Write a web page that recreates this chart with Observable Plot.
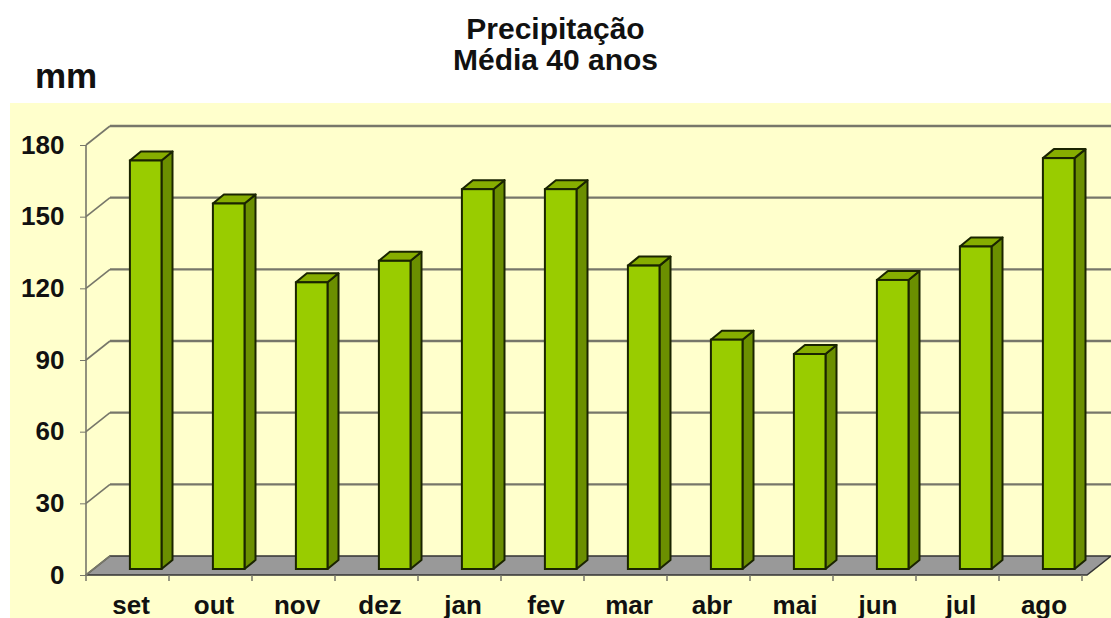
<!DOCTYPE html>
<html>
<head>
<meta charset="utf-8">
<script src="https://cdn.jsdelivr.net/npm/d3@7"></script>
<script src="https://cdn.jsdelivr.net/npm/@observablehq/plot@0.6"></script>
<style>
  html, body { margin: 0; padding: 0; background: #ffffff; }
  body { position: relative; width: 1111px; height: 618px; overflow: hidden; font-family: "Liberation Sans", Arial, sans-serif; }
  .title { position: absolute; left: 0; width: 1111px; top: 12.6px; text-align: center; font-weight: bold; font-size: 30px; line-height: 31px; color: #111; }
  .unit { position: absolute; left: 35px; top: 58px; font-weight: bold; font-size: 35px; line-height: 35px; color: #111; }
  #chart { position: absolute; left: 10px; top: 103px; width: 1101px; height: 515px; background: #ffffcc; }
</style>
</head>
<body>
<div class="title">Precipitação<br>Média 40 anos</div>
<div class="unit">mm</div>
<div id="chart"></div>
<script>
const months = ["set", "out", "nov", "dez", "jan", "fev", "mar", "abr", "mai", "jun", "jul", "ago"];
const values = [171, 153, 120, 129, 159, 159, 127, 96, 90, 121, 135, 172];
const yTicks = [0, 30, 60, 90, 120, 150, 180];

const data = months.map((m, i) => ({month: m, value: values[i]}));

// 3D projection offsets (pixels)
const wallDX = 24, wallDY = -19;       // full depth of floor/back wall
const barShiftX = 7.6, barShiftY = -6; // bar front face position in depth
const barDX = 11, barDY = -9;          // bar depth
const insetL = 33.3, insetR = 18.1;

const gridColor = "#77776a";
const outline = "#1a2400";

// walls, floor, grid
function scaffold(index, scales, values, dims) {
  const g = d3.create("svg:g");
  const y = scales.y;
  const x0 = dims.marginLeft, x1 = dims.width - dims.marginRight;
  const y0 = y(0);
  // floor
  g.append("polygon")
    .attr("points", [[x0, y0], [x1, y0], [x1 + wallDX, y0 + wallDY], [x0 + wallDX, y0 + wallDY]].join(" "))
    .attr("fill", "#999999").attr("stroke", "#333333").attr("stroke-width", 1.5);
  // back-wall gridlines + side diagonals
  for (const t of yTicks) {
    const yy = y(t);
    if (t > 0) {
      g.append("line")
        .attr("x1", x0 + wallDX).attr("x2", dims.width)
        .attr("y1", yy + wallDY).attr("y2", yy + wallDY)
        .attr("stroke", gridColor).attr("stroke-width", 2.4);
    }
    g.append("line")
      .attr("x1", x0).attr("y1", yy).attr("x2", x0 + wallDX).attr("y2", yy + wallDY)
      .attr("stroke", gridColor).attr("stroke-width", 1.6);
  }
  // front vertical axis
  g.append("line")
    .attr("x1", x0).attr("x2", x0).attr("y1", y(0)).attr("y2", y(180))
    .attr("stroke", gridColor).attr("stroke-width", 1.6);
  // category boundary ticks
  const bw = scales.x(months[1]) - scales.x(months[0]);
  for (let i = 0; i <= months.length; i++) {
    const xx = x0 + i * bw;
    g.append("line")
      .attr("x1", xx).attr("x2", xx).attr("y1", y0).attr("y2", y0 + 6)
      .attr("stroke", gridColor).attr("stroke-width", 1.5);
  }
  return g.node();
}

// bar side & top faces
function barFaces(index, scales, values, dims) {
  const g = d3.create("svg:g");
  const bw = scales.x(months[1]) - scales.x(months[0]);
  for (const d of data) {
    const xl = scales.x(d.month) + insetL + barShiftX;
    const xr = scales.x(d.month) + bw - insetR + barShiftX;
    const yt = scales.y(d.value) + barShiftY;
    const yb = scales.y(0) + barShiftY;
    g.append("polygon")
      .attr("points", [[xr, yb], [xr, yt], [xr + barDX, yt + barDY], [xr + barDX, yb + barDY]].join(" "))
      .attr("fill", "#6b8f00").attr("stroke", outline).attr("stroke-width", 2).attr("stroke-linejoin", "round");
    g.append("polygon")
      .attr("points", [[xl, yt], [xr, yt], [xr + barDX, yt + barDY], [xl + barDX, yt + barDY]].join(" "))
      .attr("fill", "#86ad00").attr("stroke", outline).attr("stroke-width", 2).attr("stroke-linejoin", "round");
  }
  return g.node();
}

const chart = Plot.plot({
  width: 1101,
  height: 515,
  marginLeft: 76,
  marginRight: 24,
  marginTop: 42,
  marginBottom: 43,
  style: {fontFamily: "'Liberation Sans', Arial, sans-serif", background: "transparent", overflow: "visible", color: "#111"},
  x: {domain: months, padding: 0, label: null},
  y: {domain: [0, 180], label: null},
  marks: [
    scaffold,
    Plot.axisY({ticks: yTicks, tickSize: 6, tickPadding: 16, fontSize: 26, fontWeight: "bold", stroke: gridColor, label: null}),
    Plot.axisX({tickSize: 0, tickPadding: 20, fontSize: 26, fontWeight: "bold", label: null}),
    barFaces,
    Plot.barY(data, {x: "month", y: "value", insetLeft: insetL, insetRight: insetR, dx: barShiftX, dy: barShiftY,
      fill: "#99cc00", stroke: outline, strokeWidth: 2})
  ]
});
document.getElementById("chart").appendChild(chart);
</script>
</body>
</html>
